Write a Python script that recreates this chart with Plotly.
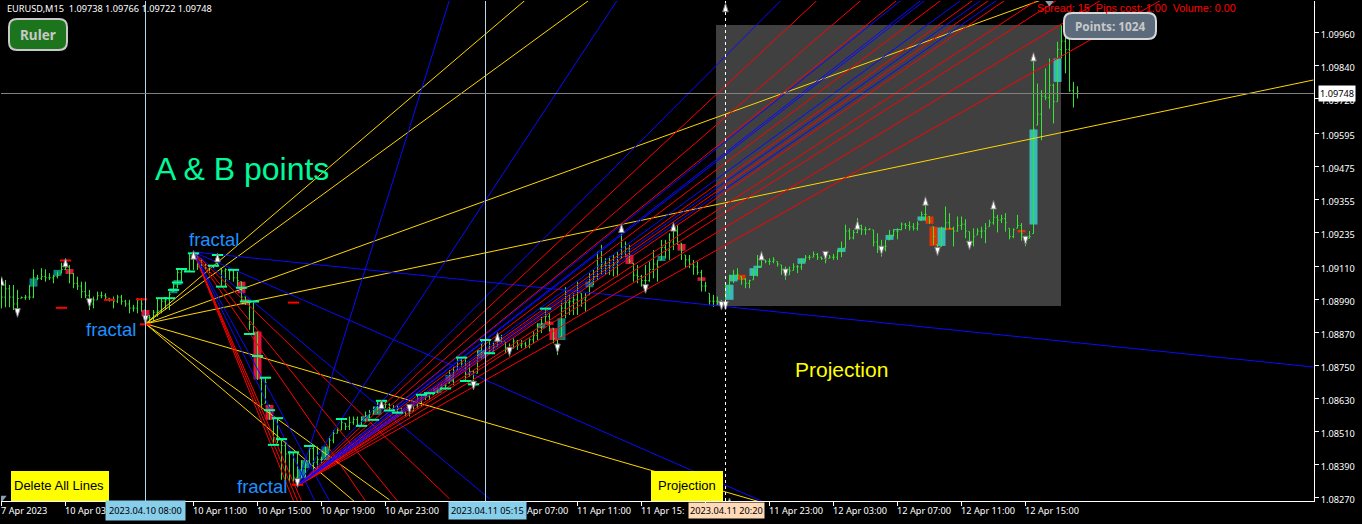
import numpy as np
import plotly.graph_objects as go

# ---- market data, in points above 1.08000 (1 point = 0.00001), one entry per 15-minute bar
bar_high = [1062,1062,1044,1044,1026,1002,1008,1044,1101,1081,1105,1101,1087,1081,1093,1125,1135,1117,1087,1074,
1056,1056,1026,1002,1020,1020,1014,996,1002,1008,1008,990,990,972,996,996,953,935,953,996,
996,996,1020,1056,1099,1105,1099,1159,1159,1159,1141,1123,1117,1117,1159,1105,1105,1099,1099,1093,
1056,1002,984,984,875,705,705,608,560,560,481,469,439,433,433,408,408,459,457,457,
420,457,493,517,523,560,542,566,566,566,566,584,590,602,626,626,620,614,608,608,
596,584,590,614,645,645,651,651,669,675,687,687,735,747,778,778,784,766,735,808,
844,844,844,838,850,863,838,832,850,844,844,838,850,875,905,929,959,941,887,844,
984,1036,1008,1014,1056,1014,1014,1087,1099,1165,1190,1141,1147,1153,1165,1268,1202,1190,1123,1117,
1081,1117,1129,1171,1135,1208,1208,1232,1262,1262,1196,1153,1153,1135,1129,1099,1056,1014,1008,1002,
990,1045,1081,1099,1105,1075,1069,1063,1105,1153,1166,1135,1141,1145,1129,1117,1111,1111,1123,1117,
1141,1153,1153,1166,1160,1147,1147,1153,1157,1172,1202,1263,1250,1244,1287,1263,1256,1250,1244,1232,
1208,1208,1244,1247,1250,1271,1269,1275,1269,1275,1311,1344,1293,1256,1190,1256,1329,1305,1256,1293,
1293,1283,1238,1250,1250,1256,1269,1281,1341,1299,1299,1305,1250,1250,1299,1269,1220,1240,1885,1776,
1752,1831,1867,1776,1928,1988,1946,1946,1782,1766]
bar_low = [959,963,963,953,927,996,990,990,996,1062,1062,1056,1062,1050,1068,1087,1099,1050,1032,1026,
996,996,953,959,990,996,990,984,959,978,972,965,941,947,941,947,899,905,911,929,
941,953,953,1020,1032,1050,1093,1093,1099,1099,1099,1099,1087,1105,1111,1038,1038,1062,1056,1038,
984,972,881,862,699,590,614,554,463,469,336,324,330,330,312,342,336,396,354,372,
396,408,445,469,505,517,517,517,536,530,530,548,554,572,578,608,596,584,578,578,
578,566,566,584,596,602,626,626,645,651,663,663,687,681,735,747,699,711,663,723,
772,808,796,802,820,832,796,784,814,808,814,814,814,832,844,869,905,875,832,790,
856,923,935,935,935,965,947,1008,1044,1062,1081,1081,1081,1075,1075,1141,1147,1123,1056,1050,
1038,1026,1056,1068,1056,1135,1141,1135,1171,1190,1135,1105,1105,1081,1081,1020,1020,972,965,972,
959,966,1008,1051,1063,1045,1032,1032,1063,1075,1111,1123,1117,1123,1111,1081,1063,1081,1097,1087,
1099,1129,1135,1145,1135,1135,1123,1141,1135,1135,1145,1178,1208,1210,1232,1226,1226,1244,1184,1160,
1147,1166,1208,1220,1210,1244,1247,1242,1242,1242,1278,1278,1266,1190,1154,1184,1244,1247,1184,1238,
1244,1214,1178,1184,1226,1214,1196,1256,1263,1235,1269,1238,1210,1214,1250,1205,1185,1213,1231,1625,
1570,1716,1685,1631,1710,1867,1813,1746,1689,1722]
bar_close = [1000,1030,1000,975,995,998,1000,1000,1070,1068,1075,1070,1070,1075,1080,1100,1108,1085,1050,1040,
1020,1005,975,990,1005,1005,1000,990,985,1000,985,975,960,960,990,975,925,925,945,950,
985,990,1010,1040,1090,1095,1095,1150,1150,1110,1115,1105,1110,1110,1120,1095,1100,1095,1070,1060,
1000,985,900,870,785,610,690,580,490,480,460,430,430,345,340,400,390,450,400,410,
410,440,480,505,515,545,530,545,555,535,555,570,575,600,615,615,610,595,590,595,
585,575,585,605,630,635,640,645,660,665,680,680,720,730,770,760,720,730,690,790,
830,815,800,820,840,850,810,800,840,825,830,825,845,860,890,905,930,900,850,830,
960,980,985,990,1020,990,1000,1060,1075,1110,1120,1115,1110,1120,1130,1160,1175,1130,1080,1075,
1060,1060,1100,1120,1110,1180,1170,1200,1240,1200,1170,1135,1120,1110,1090,1040,1040,985,985,985,
975,1040,1070,1080,1080,1065,1050,1060,1090,1110,1140,1130,1130,1135,1120,1100,1080,1095,1110,1110,
1130,1145,1145,1155,1145,1140,1135,1145,1145,1165,1175,1240,1215,1235,1260,1245,1245,1247,1200,1175,
1175,1185,1225,1240,1240,1265,1260,1255,1250,1265,1300,1300,1275,1220,1170,1240,1270,1250,1240,1260,
1265,1240,1200,1220,1240,1240,1250,1270,1290,1280,1285,1270,1220,1245,1260,1230,1195,1220,1610,1665,
1730,1725,1770,1710,1900,1930,1900,1750,1740,1748]

body_bar = [8,14,17,36,43,44,60,61,64,67,75,76,81,91,94,109,112,120,135,137,138,140,147,157,165,170,175,
            182,183,185,188,189,200,210,222,224,230,232,233,235,237,255,258,264]
body_top = [1068,1099,1102,953,1032,1062,1056,992,875,608,375,408,457,568,602,669,717,808,905,911,887,923,1056,1153,1150,1193,1072,
            1045,1081,1081,1105,1114,1141,1179,1226,1247,1293,1293,1256,1253,1250,1244,1609,1867]
body_bot = [1038,1077,1084,932,1014,1044,1014,972,701,554,342,378,408,548,572,651,693,778,887,899,844,844,1036,1120,1131,1169,1059,
            990,1057,1063,1077,1108,1121,1164,1208,1244,1278,1266,1186,1186,1247,1235,1264,1782]
body_kind = ["t","t","r","r","t","t","r","r","r","r","t","t","t","t","t","t","t","t","t","r","r","t","t","r","t","r","r",
             "T","T","R","T","T","T","T","T","T","T","R","R","T","R","R","T","T"]

dash_bar = [40,42,43,44,45,47,48,53,54,55,58,60,61,63,62,64,66,67,69,68,70,73,77,85,90,93,95,97,99,105,107,111,115,116,118,121,122,136]
dash_pts = [996,996,1026,1053,1102,1093,1159,1114,1153,1038,1099,1034,984,984,866,786,707,589,560,463,484,436,459,557,532,554,623,588,580,645,651,668,780,695,683,844,796,958]
red_dash_bar = [15,16,27,35,36,73,74]
red_dash_pts = [961,1133,990,992,901,980,318]

up_bar = [0,16,48,54,95,124,155,168,181,182,190,214,231,248,258]
up_pts = [1074,1141,1169,1159,626,871,1266,1271,2068,270,1166,1278,1365,1351,1889]
down_bar = [4,22,36,74,102,118,127,139,161,180,181,196,206,220,234,242,256]
down_pts = [927,963,902,309,578,663,786,798,1014,953,953,1071,1135,1154,1150,1172,1190]
gray_bar = [0,262]
gray_pts = [270,2072]

# ---- fan lines: each starts at a fractal and runs through a target (bar, points)
A_bar, A_pts = 36, 903
B_bar, B_pts = 48, 1164
C_bar, C_pts = 74, 314
fan_yellow_A = [(131,2080),(147,2080),(260,2080),(328,1789),(200,212),(91,223),(97,263)]
fan_blue_B = [(328,746),(190,259),(122,267),(80,210),(82,259)]
fan_red_B = [(73,259),(74,259),(75,259),(99,259),(112,267),(91,259)]
fan_blue_C = [(112,2080),(154,2080),(195,2080),(225,2080),(230,2080),(231,2080),(240,2080),(245,2080),(249,2080)]
fan_red_C = [(204,2080),(215,2080),(224,2080),(235,2080),(243,2080),(247,2080),(251,2080),(259,2080),(264,2080),(275,2080),(290,2080)]

# ---- axes
price_ticks = [1.0996,1.0984,1.0972,1.09595,1.09475,1.09355,1.09235,1.0911,1.0899,1.0887,1.0875,1.0863,1.0851,1.0839,1.0827]
time_tick_bar = list(range(0,257,16))
time_label_bar = [0,16,48,64,80,96,131.5,144,160,192,208,224,240,256]
time_label_text = ["7 Apr 2023","10 Apr 03","10 Apr 11:00","10 Apr 15:00","10 Apr 19:00","10 Apr 23:00",
                   "Apr 07:00","11 Apr 11:00","11 Apr 15:","11 Apr 23:00",
                   "12 Apr 03:00","12 Apr 07:00","12 Apr 11:00","12 Apr 15:00"]

def pr(p):
    return 1.08 + np.asarray(p, dtype=float) * 1e-5

N = len(bar_high)
k = np.arange(N)
hi, lo, cl = np.array(bar_high), np.array(bar_low), np.array(bar_close)
op = np.clip(np.r_[cl[0], cl[:-1]], lo, hi)

BW, BH = 1362, 524
L, R, T, B = 1, 1314, 1, 501
def px(x): return (x - L) / (R - L)
def py(y): return (B - y) / (B - T)

GREEN = "#2fe82f"
fig = go.Figure()
colors = {"t":"#0e8080","r":"#dc143c","T":"#38b8b8","R":"#e63000"}
fig.add_trace(go.Bar(x=body_bar, y=pr(body_top)-pr(body_bot), base=pr(body_bot), width=2,
                     marker=dict(color=[colors[c] for c in body_kind], line_width=0), hoverinfo="skip"))
fig.add_trace(go.Ohlc(x=k, open=pr(op), high=pr(hi), low=pr(lo), close=pr(cl), tickwidth=0.3,
                      increasing=dict(line=dict(color=GREEN, width=1)),
                      decreasing=dict(line=dict(color=GREEN, width=1)), hoverinfo="skip"))

def fan(anchor_bar, anchor_pts, targets, color, width=1):
    xs, ys = [], []
    for (b, p) in targets:
        xs += [anchor_bar, b, None]
        ys += [pr(anchor_pts), pr(p), None]
    fig.add_trace(go.Scatter(x=xs, y=ys, mode="lines", line=dict(color=color, width=width), hoverinfo="skip"))

fan(A_bar, A_pts, fan_yellow_A, "#ffd700")
fan(B_bar, B_pts, fan_red_B, "#ff0000")
fan(B_bar, B_pts, fan_blue_B, "#0a0aff")
fan(C_bar, C_pts, fan_red_C, "#ff0000")
fan(C_bar, C_pts, fan_blue_C, "#0a0aff")

fig.add_trace(go.Scatter(x=dash_bar, y=pr(dash_pts), mode="markers", hoverinfo="skip",
                         marker=dict(symbol="line-ew", size=8, line=dict(color="#00ff99", width=2))))
fig.add_trace(go.Scatter(x=red_dash_bar, y=pr(red_dash_pts), mode="markers", hoverinfo="skip",
                         marker=dict(symbol="line-ew", size=8, line=dict(color="#ff0000", width=2))))
fig.add_trace(go.Scatter(x=up_bar, y=pr(up_pts), mode="markers", hoverinfo="skip",
                         marker=dict(symbol="arrow", size=9, color="#ffffff", line=dict(color="#777777", width=1))))
fig.add_trace(go.Scatter(x=down_bar, y=pr(down_pts), mode="markers", hoverinfo="skip",
                         marker=dict(symbol="arrow", angle=180, size=9, color="#ffffff", line=dict(color="#777777", width=1))))
fig.add_trace(go.Scatter(x=gray_bar, y=pr(gray_pts), mode="markers", hoverinfo="skip",
                         marker=dict(symbol="triangle-down", size=9, color="#8c9cab", line_width=0)))

def rrect(x0, y0, x1, y1, r, fill, line, lw):
    rx, ry = r/(R-L), r/(B-T)
    a,b,c,d = px(x0),px(x1),py(y0),py(y1)
    path = (f"M {a+rx} {c} L {b-rx} {c} Q {b} {c} {b} {c-ry} L {b} {d+ry} Q {b} {d} {b-rx} {d} "
            f"L {a+rx} {d} Q {a} {d} {a} {d+ry} L {a} {c-ry} Q {a} {c} {a+rx} {c} Z")
    return dict(type="path", xref="paper", yref="paper", path=path, fillcolor=fill, line=dict(color=line, width=lw), layer="above")

shapes = [
    dict(type="rect", xref="paper", yref="paper", x0=px(716), x1=px(1061), y0=py(306), y1=py(25),
         fillcolor="#404040", line_width=0, layer="below"),
    dict(type="line", xref="paper", yref="paper", x0=px(145.5), x1=px(145.5), y0=0, y1=1, line=dict(color="#b0d8f0", width=1), layer="above"),
    dict(type="line", xref="paper", yref="paper", x0=px(485.5), x1=px(485.5), y0=0, y1=1, line=dict(color="#b0d8f0", width=1), layer="above"),
    dict(type="line", xref="paper", yref="paper", x0=px(725.5), x1=px(725.5), y0=0, y1=1, line=dict(color="#ffffff", width=1, dash="3px,3px"), layer="above"),
    dict(type="line", xref="paper", yref="paper", x0=0, x1=1, y0=py(93.5), y1=py(93.5), line=dict(color="#808080", width=1), layer="above"),
    dict(type="rect", xref="paper", yref="paper", x0=px(11), x1=px(109), y0=py(501), y1=py(471), fillcolor="#ffff00", line_width=0, layer="above"),
    dict(type="rect", xref="paper", yref="paper", x0=px(651), x1=px(723), y0=py(501), y1=py(471), fillcolor="#ffff00", line_width=0, layer="above"),
    rrect(9, 19, 67, 50, 8, "#1c751c", "#c8c8c8", 2),
    rrect(1064, 13, 1156, 39, 8, "#5b6b7c", "#d8d8d8", 2),
]

def txt(x, y, s, size, color, family="Liberation Sans", anchor="left", bg=None, pad=0):
    d = dict(xref="paper", yref="paper", x=px(x), y=py(y), text=s, showarrow=False, xanchor=anchor, yanchor="middle",
             font=dict(size=size, color=color, family=family), borderpad=pad)
    if bg: d["bgcolor"] = bg
    return d

annotations = [
    txt(6, 8, "EURUSD,M15&nbsp;&nbsp;1.09738 1.09766 1.09722 1.09748", 9.2, "#ffffff", "Noto Sans"),
    txt(38, 35, "<b>Ruler</b>", 13.5, "#c8c8c8", "Noto Sans", anchor="center"),
    txt(1036, 8, "Spread: 15&nbsp;&nbsp;Pips cost: 1.00&nbsp;&nbsp;Volume: 0.00", 10.8, "#ff0000"),
    txt(1110, 26, "<b>Points: 1024</b>", 11.8, "#c8c8c8", "Noto Sans", anchor="center"),
    txt(154, 169.5, "A &amp; B points", 32, "#00fa9a"),
    txt(85, 330, "fractal", 18.5, "#1e90ff"),
    txt(188, 239, "fractal", 18.5, "#1e90ff"),
    txt(236, 486, "fractal", 18.5, "#1e90ff"),
    txt(794, 369, "Projection", 21, "#ffff00"),
    txt(59, 485.5, "Delete All Lines", 13, "#000000", anchor="center"),
    txt(687, 485.5, "Projection", 13, "#000000", anchor="center"),
]
for b, s in zip(time_label_bar, time_label_text):
    annotations.append(dict(xref="x", yref="paper", x=b, y=py(510), text=s, showarrow=False, xanchor="left", yanchor="middle",
                            xshift=-3, font=dict(size=9.2, color="#ffffff", family="Noto Sans")))
annotations += [
    txt(145.5, 510, "2023.04.10 08:00", 9.2, "#000000", "Noto Sans", anchor="center", bg="#87ceeb", pad=3),
    txt(487, 510, "2023.04.11 05:15", 9.2, "#000000", "Noto Sans", anchor="center", bg="#87ceeb", pad=2),
    txt(726.5, 510, "2023.04.11 20:20", 9.2, "#000000", "Noto Sans", anchor="center", bg="#ffdab9", pad=1),
    txt(1337, 93, "1.09748", 9.2, "#000000", "Noto Sans", anchor="center", bg="#ffffff", pad=1),
]

fig.update_layout(
    width=BW, height=BH, margin=dict(l=L, r=BW-R, t=T, b=BH-B, pad=0),
    paper_bgcolor="#000000", plot_bgcolor="#000000", showlegend=False, barmode="overlay",
    shapes=shapes, annotations=annotations, dragmode=False,
    font=dict(family="Noto Sans", size=10, color="#ffffff"),
    xaxis=dict(range=[-0.125, (R-L)/4 - 0.125], showgrid=False, zeroline=False, rangeslider=dict(visible=False),
               tickmode="array", tickvals=time_tick_bar, ticks="outside", ticklen=4, showticklabels=False,
               tickcolor="#ffffff", showline=True, linecolor="#ffffff", linewidth=1),
    yaxis=dict(range=[1.08 + 259e-5, 1.08 + 2076e-5], side="right", showgrid=False, zeroline=False,
               tickmode="array", tickvals=price_ticks, tickformat=".5f", ticks="outside", ticklen=4,
               tickcolor="#ffffff", tickfont=dict(size=9.2, color="#ffffff", family="Noto Sans"),
               ticklabelshift=2, showline=True, linecolor="#ffffff", linewidth=1),
)
fig.write_html("out.html", config=dict(displayModeBar=False),
               post_script="document.body.style.margin='0';document.body.style.overflow='hidden';document.body.style.background='#000';")
